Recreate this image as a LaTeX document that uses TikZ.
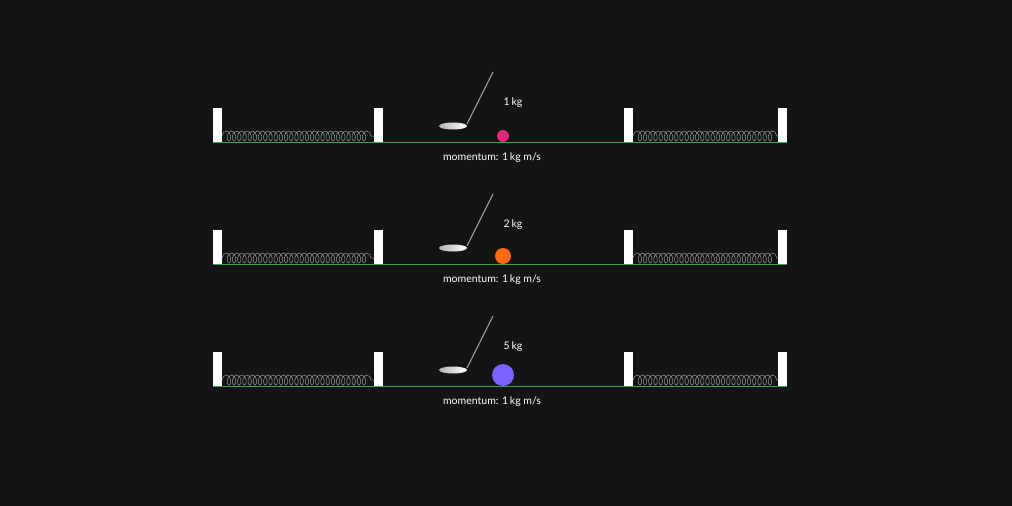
\documentclass[tikz,border=0pt]{standalone}
\usepackage{fontspec}
\setmainfont{Lato}
\usetikzlibrary{positioning, decorations.pathmorphing}
\definecolor{bg}{HTML}{141414}
\definecolor{grass}{HTML}{3FA34D}
\definecolor{ballA}{HTML}{E0287A}
\definecolor{ballB}{HTML}{FF6A13}
\definecolor{ballC}{HTML}{7B61FF}
\tikzset{
  wall/.style={fill=white, draw=none},
  spring/.style={draw=gray!80, line width=0.5pt, decorate,
    decoration={coil, aspect=0.6, segment length=5.2pt, amplitude=5pt}},
  label/.style={text=white, font=\fontsize{10.5}{12}\selectfont, inner sep=0pt}
}
\begin{document}
\begin{tikzpicture}[x=1pt, y=-1pt]
\fill[bg] (0,0) rectangle (1012,506);
\useasboundingbox (0,0) rectangle (1012,506);

% three rows
\foreach \ty/\m/\r/\c [count=\i] in {142/1/6/ballA, 264/2/8/ballB, 386/5/11/ballC}{
  % walls
  \foreach \wx in {213, 374, 624, 778}
    \fill[wall] (\wx,\ty-34) rectangle ++(9,34);
  % springs
  \draw[spring] (222,\ty-6) -- (374,\ty-6);
  \draw[spring] (633,\ty-6) -- (778,\ty-6);
  % ground
  \draw[grass, line width=0.8pt] (213,\ty) -- (787,\ty);
  % club
  \draw[gray!70, line width=1pt] (493,\ty-70) -- (467,\ty-18);
  \shade[left color=gray!60, right color=white] (453,\ty-16) ellipse (14pt and 3.5pt);
  % ball and texts
  \node[circle, fill=\c, minimum size=2*\r pt, inner sep=0pt] (ball\i) at (503,\ty-\r) {};
  \node[label] (mass\i) at (513,\ty-39) {\m\,kg};
  \node[label] (mom\i) at (492,\ty+16) {momentum: 1\,kg m/s};
}
\end{tikzpicture}
\end{document}
